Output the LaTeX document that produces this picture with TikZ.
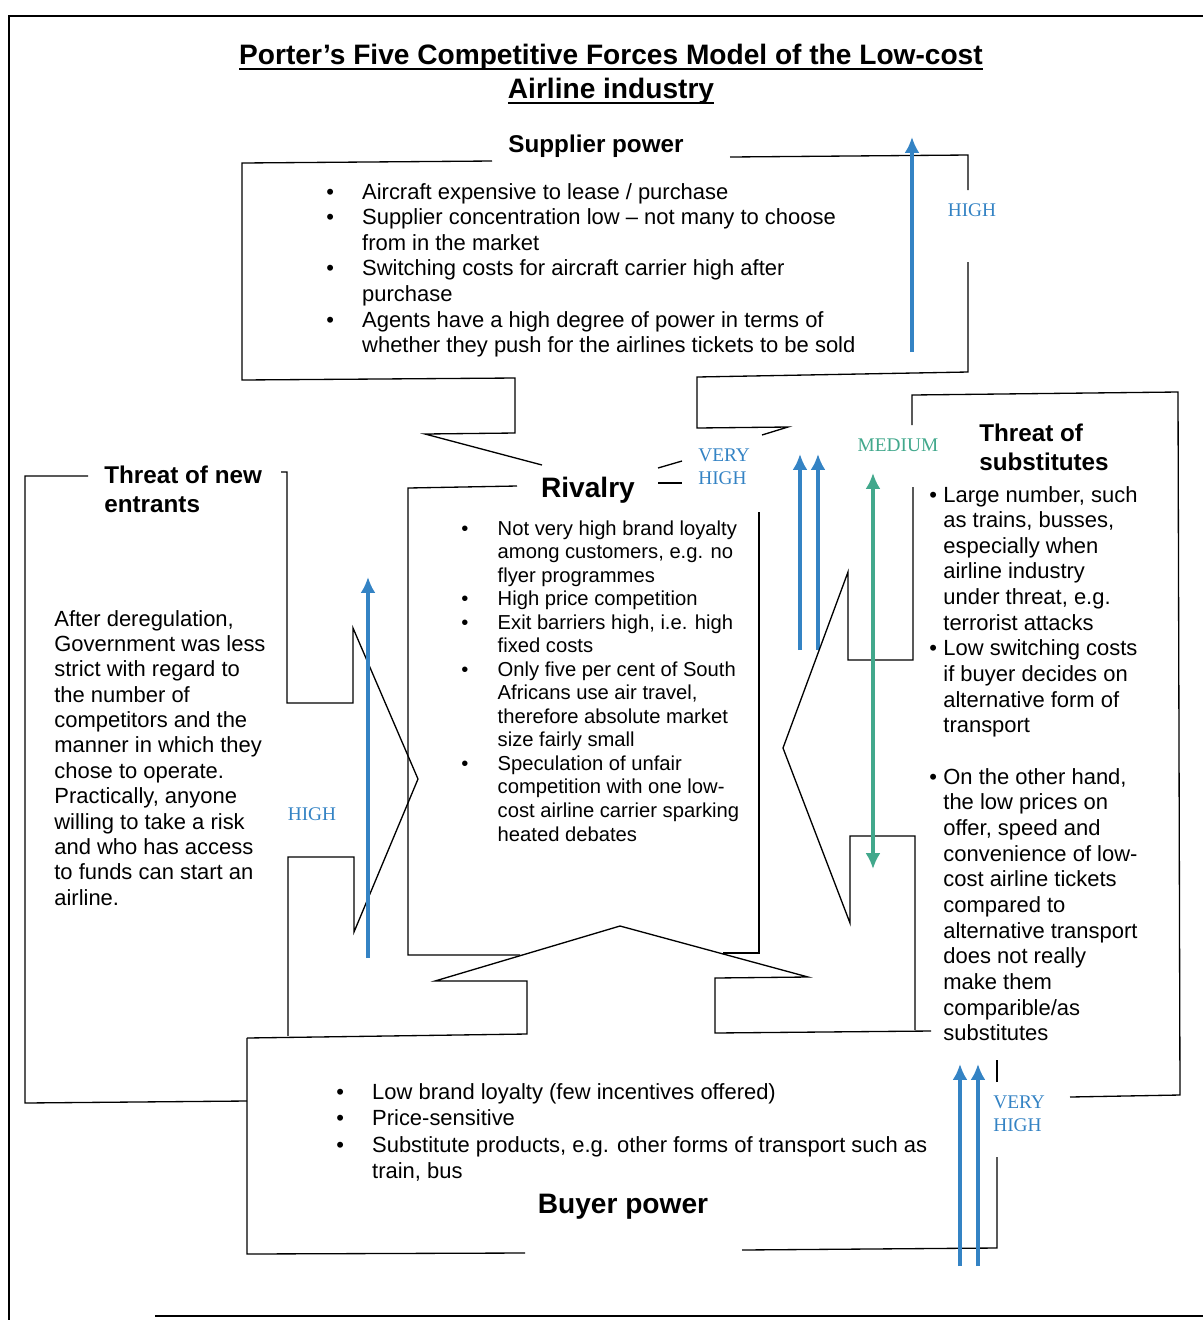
\documentclass[tikz,border=0pt]{standalone}
\usepackage{fontspec}
\setmainfont{Liberation Sans}
\newfontfamily\levelfont{Liberation Serif}
\usepackage{tikz}
\usetikzlibrary{arrows.meta}
\definecolor{forceblue}{RGB}{52,131,196}
\definecolor{forcegreen}{RGB}{66,168,140}
\tikzset{outline/.style={line width=0.75pt,line join=miter}}
\tikzset{force/.style={line width=2.8pt,forceblue,-{Latex[length=9pt,width=8.5pt]}}}
\tikzset{level/.style={font=\levelfont\fontsize{11}{13.4}\selectfont,forceblue,inner sep=0pt}}
\tikzset{heading/.style={font=\bfseries\fontsize{13.8}{16.5}\selectfont,inner sep=0pt}}
\tikzset{body/.style={font=\fontsize{12.5}{14.6}\selectfont,inner sep=0pt,anchor=base west}}
\newcommand{\bt}[1]{\makebox[#1][l]{\textbullet}}
\newcommand{\ttl}[1]{\setbox0\hbox{#1}\rlap{\rule[-3.2pt]{\wd0}{1.1pt}}\box0}

\begin{document}
\begin{tikzpicture}[x=0.02cm,y=-0.02cm]
	\useasboundingbox (0,0) rectangle (1203,1320);
	%% page frame
	\draw[outline] (1203,16) -- (9,16) -- (9,1320);
	\draw[outline] (155,1316) -- (1203,1316);
	%%
	\node[font=\bfseries\fontsize{16}{19.8}\selectfont,inner sep=0pt,anchor=base] (title) at (611,64)
		{\begin{tabular}[t]{@{}c@{}}\ttl{Porter’s Five Competitive Forces Model of the Low-cost}\\ \ttl{Airline industry}\end{tabular}};

	%% supplier power
	\draw[outline] (492,161) -- (242,163) -- (242,380) -- (515,378) -- (515,433) -- (425,434) -- (542,465);
	\draw[outline] (730,157) -- (968,155) -- (968,190);
	\draw[outline] (968,262) -- (968,372) -- (697,377) -- (697,428) -- (788,427) -- (762,435);
	\draw[outline] (658,468) -- (682,461);
	\node[heading] (supplier) at (596,146) {Supplier power};
	\node[body] (suplist) at (326,199) {\begin{tabular}[t]{@{}l@{}l@{}}
		\bt{20.4pt} & Aircraft expensive to lease / purchase\\
		\bt{20.4pt} & Supplier concentration low – not many to choose\\
		 & from in the market\\
		\bt{20.4pt} & Switching costs for aircraft carrier high after\\
		 & purchase\\
		\bt{20.4pt} & Agents have a high degree of power in terms of\\
		 & whether they push for the airlines tickets to be sold
	\end{tabular}};
	\draw[force] (912,352) -- (912,137);
	\node[level] (suphigh) at (972,210) {HIGH};

	%% rivalry
	\draw[outline] (517,486) -- (408,488) -- (408,955) -- (520,955);
	\draw[outline] (658,483) -- (682,483);
	\draw[outline] (723,953) -- (759,953) -- (759,512);
	\node[heading,font=\bfseries\fontsize{16}{19}\selectfont] (rivalry) at (588,490) {Rivalry};
	\node[body,font=\fontsize{11.5}{13.4}\selectfont] (rivlist) at (461,535) {\begin{tabular}[t]{@{}l@{}l@{}}
		\bt{20.7pt} & Not very high brand loyalty\\
		 & among customers, e.g. no\\
		 & flyer programmes\\
		\bt{20.7pt} & High price competition\\
		\bt{20.7pt} & Exit barriers high, i.e. high\\
		 & fixed costs\\
		\bt{20.7pt} & Only five per cent of South\\
		 & Africans use air travel,\\
		 & therefore absolute market\\
		 & size fairly small\\
		\bt{20.7pt} & Speculation of unfair\\
		 & competition with one low-\\
		 & cost airline carrier sparking\\
		 & heated debates
	\end{tabular}};
	\node[level,anchor=base west] (rivhigh) at (698,461) {\begin{tabular}[t]{@{}l@{}}VERY\\ HIGH\end{tabular}};
	\draw[force] (800,650) -- (800,454);
	\draw[force] (818,650) -- (818,454);

	%% threat of new entrants
	\draw[outline] (88,476) -- (25,476) -- (25,1103) -- (247,1101);
	\draw[outline] (281,472) -- (287,472) -- (287,703) -- (353,703) -- (353,628) -- (418,779)
		-- (354,932) -- (354,857) -- (288,857) -- (288,1036);
	\node[heading,anchor=base west] (entrants) at (104,483) {\begin{tabular}[t]{@{}l@{}}Threat of new\\ entrants\end{tabular}};
	\node[body,font=\fontsize{12.5}{14.45}\selectfont] (enttext) at (54,626) {\begin{tabular}[t]{@{}l@{}}
		After deregulation,\\ Government was less\\ strict with regard to\\ the number of\\
		competitors and the\\ manner in which they\\ chose to operate.\\ Practically, anyone\\
		willing to take a risk\\ and who has access\\ to funds can start an\\ airline.
	\end{tabular}};
	\draw[force] (368,958) -- (368,577);
	\node[level] (enthigh) at (312,814) {HIGH};

	%% threat of substitutes
	\draw[outline] (912,425) -- (912,395) -- (1178,392) -- (1180,1095) -- (1070,1097);
	\draw[outline] (913,487) -- (913,660) -- (848,660) -- (848,572) -- (783,748) -- (850,923)
		-- (850,836) -- (915,836) -- (915,1030);
	\node[heading,anchor=base west] (substitutes) at (979,441) {\begin{tabular}[t]{@{}l@{}}Threat of\\ substitutes\end{tabular}};
	\node[body,font=\fontsize{12.5}{14.6}\selectfont] (sublist) at (929,502) {\begin{tabular}[t]{@{}l@{}l@{}}
		\bt{8pt} & Large number, such\\
		 & as trains, busses,\\
		 & especially when\\
		 & airline industry\\
		 & under threat, e.g.\\
		 & terrorist attacks\\
		\bt{8pt} & Low switching costs\\
		 & if buyer decides on\\
		 & alternative form of\\
		 & transport\\
		 & \\
		\bt{8pt} & On the other hand,\\
		 & the low prices on\\
		 & offer, speed and\\
		 & convenience of low-\\
		 & cost airline tickets\\
		 & compared to\\
		 & alternative transport\\
		 & does not really\\
		 & make them\\
		 & comparible/as\\
		 & substitutes
	\end{tabular}};
	\node[level,text=forcegreen] (submed) at (898,445) {MEDIUM};
	\draw[line width=2.8pt,forcegreen,{Latex[length=9pt,width=8.5pt]}-{Latex[length=9pt,width=8.5pt]}] (873,473) -- (873,869);

	%% buyer power
	\draw[outline] (247,1038) -- (527,1034) -- (527,981) -- (435,981) -- (620,926) -- (808,977)
		-- (715,978) -- (715,1033) -- (931,1031);
	\draw[outline] (247,1038) -- (247,1254) -- (525,1253);
	\draw[outline] (742,1250) -- (997,1248) -- (997,1157);
	\draw[outline] (997,1082) -- (997,1060);
	\node[body,font=\fontsize{12.5}{15.1}\selectfont] (buylist) at (336,1099) {\begin{tabular}[t]{@{}l@{}l@{}}
		\bt{20.4pt} & Low brand loyalty (few incentives offered)\\
		\bt{20.4pt} & Price-sensitive\\
		\bt{20.4pt} & Substitute products, e.g. other forms of transport such as\\
		 & train, bus
	\end{tabular}};
	\node[heading,font=\bfseries\fontsize{16}{19}\selectfont] (buyer) at (623,1207) {Buyer power};
	\draw[force] (960,1266) -- (960,1064);
	\draw[force] (978,1266) -- (978,1064);
	\node[level,anchor=base west] (buyhigh) at (993,1108) {\begin{tabular}[t]{@{}l@{}}VERY\\ HIGH\end{tabular}};
\end{tikzpicture}
\end{document}
